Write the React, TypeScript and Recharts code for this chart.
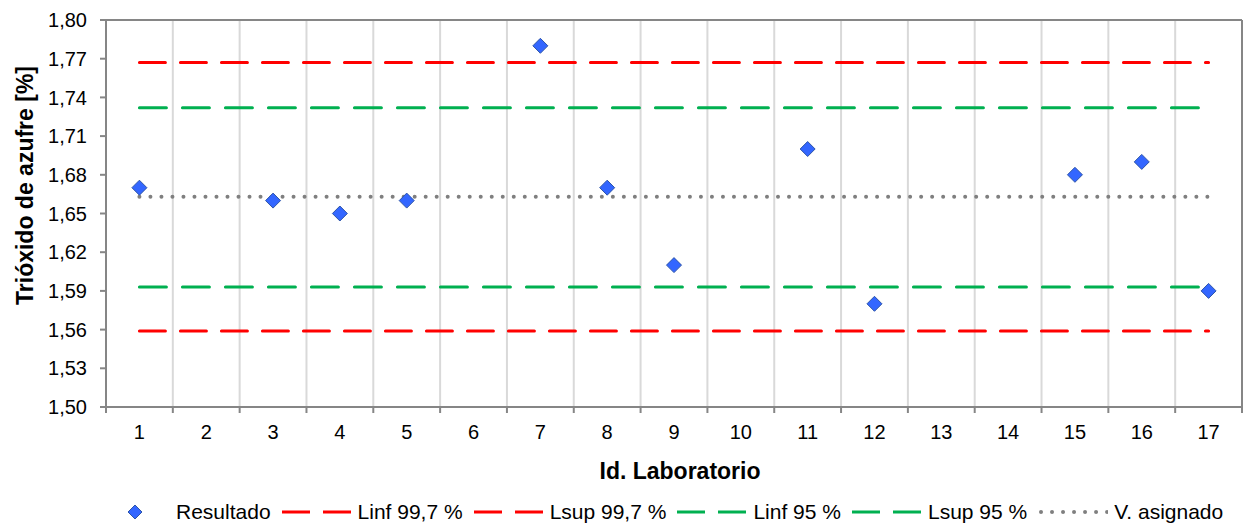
import React from 'react';
import { ComposedChart, Line, Scatter, XAxis, YAxis, ReferenceLine, Legend, Label } from 'recharts';

const labs = [1, 2, 3, 4, 5, 6, 7, 8, 9, 10, 11, 12, 13, 14, 15, 16, 17];
const results: (number | null)[] = [1.67, null, 1.66, 1.65, 1.66, null, 1.78, 1.67, 1.61, null, 1.70, 1.58, null, null, 1.68, 1.69, 1.59];
const linf997 = 1.559;
const lsup997 = 1.767;
const linf95 = 1.593;
const lsup95 = 1.732;
const assigned = 1.663;
const yTicks = [1.50, 1.53, 1.56, 1.59, 1.62, 1.65, 1.68, 1.71, 1.74, 1.77, 1.80];

const FONT = '"Liberation Sans", Arial, sans-serif';
const RED = '#FF0000';
const GREEN = '#00B050';
const GRAY = '#7F7F7F';
const AXIS = '#868686';
const GRID = '#D9D9D9';
const MARK = '#3366FF';
const MARK_EDGE = '#2E55A8';

const lineData = labs.map((id) => ({ id, linf997, lsup997, linf95, lsup95, assigned }));
const scatterData = labs
  .map((id, i) => ({ id, res: results[i] }))
  .filter((d) => d.res !== null);
const xTickValues = [labs[0] - 0.5, ...labs.flatMap((l) => [l, l + 0.5])];
const boundaries = labs.slice(0, -1).map((l) => l + 0.5);

const fmt = (v: number) => v.toFixed(2).replace('.', ',');

const Diamond = (props: any) => {
  const { cx, cy } = props;
  if (cx == null || cy == null) return null;
  const r = 7.5;
  return (
    <path
      d={`M${cx},${cy - r}L${cx + r},${cy}L${cx},${cy + r}L${cx - r},${cy}Z`}
      fill={MARK}
      stroke={MARK_EDGE}
      strokeWidth={1}
    />
  );
};

const XTick = (props: any) => {
  const { x, y, payload } = props;
  const v = payload.value;
  if (Number.isInteger(v)) {
    return (
      <text x={x} y={y + 32} textAnchor="middle" fontSize={20} fontFamily={FONT} fill="#000">
        {v}
      </text>
    );
  }
  return <line x1={x} x2={x} y1={y} y2={y + 6} stroke={AXIS} strokeWidth={2} />;
};

const XTitle = (props: any) => {
  const vb = props.viewBox || {};
  return (
    <text x={vb.x + vb.width / 2 + 6} y={vb.y + 72} textAnchor="middle" fontSize={23} fontWeight="bold" fontFamily={FONT} fill="#000">
      Id. Laboratorio
    </text>
  );
};

const YTitle = (props: any) => {
  const vb = props.viewBox || {};
  const cx = 33;
  const cy = vb.y + vb.height / 2 - 28;
  return (
    <text x={cx} y={cy} transform={`rotate(-90 ${cx} ${cy})`} textAnchor="middle" fontSize={23} fontWeight="bold" fontFamily={FONT} fill="#000">
      Trióxido de azufre [%]
    </text>
  );
};

const legendItems = [
  { label: 'Resultado', kind: 'diamond', color: MARK },
  { label: 'Linf 99,7 %', kind: 'dash', color: RED },
  { label: 'Lsup 99,7 %', kind: 'dash', color: RED },
  { label: 'Linf 95 %', kind: 'dash', color: GREEN },
  { label: 'Lsup 95 %', kind: 'dash', color: GREEN },
  { label: 'V. asignado', kind: 'dot', color: GRAY },
];

const LegendContent = () => (
  <div
    style={{
      display: 'flex',
      justifyContent: 'flex-start',
      alignItems: 'center',
      height: 39,
      boxSizing: 'border-box',
      paddingTop: 11,
      paddingLeft: 100,
      fontFamily: FONT,
      fontSize: 21,
      color: '#000',
    }}
  >
    {legendItems.map((it) => (
      <div key={it.label} style={{ display: 'flex', alignItems: 'center', marginRight: 11 }}>
        <svg width={70} height={16} style={{ marginRight: 6 }}>
          {it.kind === 'diamond' && (
            <path d="M35,1L42,8L35,15L28,8Z" fill={MARK} stroke={MARK_EDGE} strokeWidth={1} />
          )}
          {it.kind === 'dash' && (
            <line x1={0} x2={70} y1={8} y2={8} stroke={it.color} strokeWidth={3} strokeDasharray="28 13" />
          )}
          {it.kind === 'dot' && (
            <line x1={3} x2={70} y1={8} y2={8} stroke={it.color} strokeWidth={4} strokeDasharray="0.01 11" strokeLinecap="round" />
          )}
        </svg>
        <span style={{ whiteSpace: 'nowrap' }}>{it.label}</span>
      </div>
    ))}
  </div>
);

export default function App() {
  return (
    <div style={{ width: 1244, height: 526, background: '#fff' }}>
      <style>{`body{margin:0;}`}</style>
      <ComposedChart width={1244} height={526} data={lineData} margin={{ top: 20, right: 2, left: 0, bottom: 0 }}>
        <XAxis
          dataKey="id"
          type="number"
          domain={[0.5, 17.5]}
          ticks={xTickValues}
          interval={0}
          tick={<XTick />}
          tickLine={false}
          tickSize={0}
          tickMargin={0}
          axisLine={{ stroke: AXIS, strokeWidth: 2 }}
          height={80}
          allowDecimals
        >
          <Label content={<XTitle />} />
        </XAxis>
        <YAxis
          type="number"
          domain={[1.5, 1.8]}
          ticks={yTicks}
          interval={0}
          tickFormatter={fmt}
          tick={{ fontSize: 20, fontFamily: FONT, fill: '#000' }}
          tickLine={{ stroke: AXIS, strokeWidth: 2 }}
          tickSize={6}
          tickMargin={13}
          axisLine={{ stroke: AXIS, strokeWidth: 2 }}
          width={106}
          allowDataOverflow
        >
          <Label content={<YTitle />} />
        </YAxis>
        {boundaries.map((b) => (
          <ReferenceLine key={b} x={b} stroke={GRID} strokeWidth={2} />
        ))}
        <ReferenceLine y={1.8} stroke={AXIS} strokeWidth={2} />
        <ReferenceLine x={17.5} stroke={AXIS} strokeWidth={2} />
        <Legend verticalAlign="bottom" height={39} content={<LegendContent />} />
        <Line dataKey="linf997" stroke={RED} strokeWidth={3} strokeDasharray="26 15" strokeLinecap="round" dot={false} activeDot={false} isAnimationActive={false} legendType="none" />
        <Line dataKey="lsup997" stroke={RED} strokeWidth={3} strokeDasharray="26 15" strokeLinecap="round" dot={false} activeDot={false} isAnimationActive={false} legendType="none" />
        <Line dataKey="linf95" stroke={GREEN} strokeWidth={3} strokeDasharray="27 16" strokeLinecap="round" dot={false} activeDot={false} isAnimationActive={false} legendType="none" />
        <Line dataKey="lsup95" stroke={GREEN} strokeWidth={3} strokeDasharray="27 16" strokeLinecap="round" dot={false} activeDot={false} isAnimationActive={false} legendType="none" />
        <Line dataKey="assigned" stroke={GRAY} strokeWidth={4} strokeDasharray="0.01 11" strokeLinecap="round" dot={false} activeDot={false} isAnimationActive={false} legendType="none" />
        <Scatter data={scatterData} dataKey="res" shape={<Diamond />} isAnimationActive={false} legendType="none" />
      </ComposedChart>
    </div>
  );
}
